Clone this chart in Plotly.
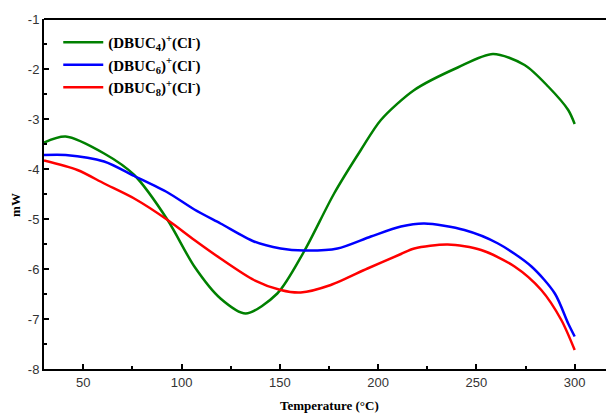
import plotly.graph_objects as go

# Temperature (°C) and heat flow (mW)
t_c4 = [30, 41, 60.6, 75.9, 92.9, 106.5, 119.8, 132.6, 148.7, 162.3, 177.6, 191.2, 201.4, 218.4, 240.5, 258.4, 274.5, 286.5, 296.7, 300]
mw_c4 = [-3.47, -3.35, -3.69, -4.12, -5.02, -5.95, -6.59, -6.89, -6.49, -5.65, -4.49, -3.62, -3.02, -2.42, -1.97, -1.70, -1.92, -2.35, -2.82, -3.10]

t_c6 = [30, 41, 60.6, 75.9, 92.9, 106.5, 119.8, 136.8, 150.4, 162.3, 179.3, 196.3, 211.6, 223.5, 243.9, 261, 278, 289.9, 296.7, 300]
mw_c6 = [-3.72, -3.72, -3.85, -4.14, -4.47, -4.81, -5.09, -5.45, -5.59, -5.63, -5.59, -5.35, -5.15, -5.09, -5.22, -5.49, -5.95, -6.49, -7.09, -7.35]

t_c8 = [30, 47, 60.6, 75.9, 92.9, 106.5, 119.8, 136.8, 150.4, 160.6, 175.9, 194.6, 211.6, 218.4, 235.4, 252.4, 269.4, 283, 293.2, 300]
mw_c8 = [-3.83, -4.02, -4.29, -4.59, -5.02, -5.42, -5.79, -6.22, -6.42, -6.47, -6.32, -5.99, -5.70, -5.59, -5.51, -5.62, -5.95, -6.42, -7.02, -7.62]

names = ["<b>(DBUC<sub>4</sub>)<sup>+</sup>(Cl<sup>-</sup>)</b>",
         "<b>(DBUC<sub>6</sub>)<sup>+</sup>(Cl<sup>-</sup>)</b>",
         "<b>(DBUC<sub>8</sub>)<sup>+</sup>(Cl<sup>-</sup>)</b>"]
colors = ["#008000", "#0000ff", "#ff0000"]

x_ticks = [50, 100, 150, 200, 250, 300]
y_ticks = [-1, -2, -3, -4, -5, -6, -7, -8]
y_ticktext = [str(v) for v in y_ticks]

fig = go.Figure()
for t, m, n, c in zip([t_c4, t_c6, t_c8], [mw_c4, mw_c6, mw_c8], names, colors):
    fig.add_trace(go.Scatter(x=t, y=m, mode="lines", name=n,
                             line=dict(color=c, width=2.5, shape="spline", smoothing=0.8)))

# page body has an 8px margin, so the figure is shrunk by 8px to fit the window
fig.update_layout(
    width=606, height=407,
    margin=dict(l=36, r=0, t=11, b=46, autoexpand=False),
    plot_bgcolor="white", paper_bgcolor="white",
    showlegend=True,
    legend=dict(x=0.025, y=0.98, xanchor="left", yanchor="top", itemwidth=40,
                font=dict(family="Liberation Serif", size=15, color="black"),
                bgcolor="rgba(0,0,0,0)", tracegroupgap=0),
)
fig.update_xaxes(
    range=[30, 320], tickvals=x_ticks, ticks="inside", ticklen=5, tickwidth=1.5,
    tickcolor="black", showline=True, linecolor="black", linewidth=2,
    showgrid=False, zeroline=False, automargin=False,
    tickfont=dict(family="Liberation Sans", size=13, color="#333"),
    minor=dict(tickvals=[75, 125, 175, 225, 275], ticks="inside", ticklen=3, tickcolor="black"),
)
fig.update_yaxes(
    range=[-8, -1], tickvals=y_ticks, ticktext=y_ticktext, ticks="inside", ticklen=5, tickwidth=1.5,
    tickcolor="black", showline=True, linecolor="black", linewidth=2,
    showgrid=False, zeroline=False, automargin=False,
    tickfont=dict(family="Liberation Sans", size=13, color="#333"),
    minor=dict(tickvals=[-1.5, -2.5, -3.5, -4.5, -5.5, -6.5, -7.5], ticks="inside", ticklen=3, tickcolor="black"),
)
# axis titles
fig.add_annotation(text="<b>Temperature (°C)</b>", xref="paper", yref="paper", x=0.5, y=-0.103,
                   xanchor="center", yanchor="middle", showarrow=False,
                   font=dict(family="Liberation Serif", size=13, color="black"))
fig.add_annotation(text="<b>mW</b>", xref="paper", yref="paper", x=-0.049, y=0.469,
                   xanchor="center", yanchor="middle", textangle=-90, showarrow=False,
                   font=dict(family="Liberation Serif", size=13, color="black"))
# top border line
fig.add_shape(type="line", xref="paper", yref="paper", x0=0, x1=1, y0=1, y1=1,
              line=dict(color="black", width=2))

fig.write_html("out.html")
